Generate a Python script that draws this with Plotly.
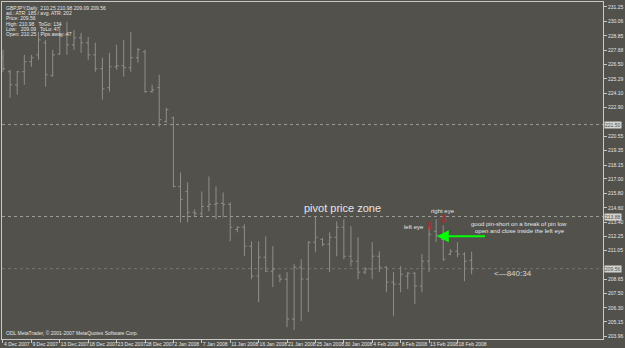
import plotly.graph_objects as go

# ---- data (GBPJPY daily) ----
bar_index = list(range(67))
opens = [227.04, 225.88, 224.80, 225.88, 226.71, 227.28, 228.28, 225.55, 227.35, 228.94,
         228.11, 228.69, 228.28, 227.28, 226.13, 224.56, 226.29, 226.37, 226.21, 227.04,
         227.53, 224.23, 224.56, 221.75, 222.05, 216.37, 215.96, 214.23, 214.14, 214.72,
         214.89, 214.97, 214.89, 212.82, 212.99, 211.42, 208.94, 210.51, 209.35, 208.94,
         208.69, 205.38, 209.68, 208.69, 211.75, 211.99, 211.58, 212.16, 212.99, 210.59,
         210.18, 209.27, 209.52, 210.59, 209.68, 208.44, 208.28, 208.94, 209.18, 208.11,
         210.18, 212.66, 211.99, 210.76, 211.00, 210.76, 210.25]
highs = [227.70, 226.04, 225.95, 227.28, 227.28, 229.18, 228.52, 227.70, 229.76, 230.01,
         229.35, 229.10, 228.77, 228.28, 227.04, 227.45, 228.11, 228.52, 229.18, 227.86,
         227.70, 224.80, 225.63, 222.90, 222.16, 217.53, 216.70, 214.47, 215.96, 217.20,
         216.37, 215.88, 215.05, 213.07, 213.23, 211.83, 211.83, 212.24, 211.42, 209.10,
         209.27, 209.93, 210.34, 211.83, 213.90, 212.10, 212.57, 213.48, 213.65, 213.07,
         212.16, 209.68, 211.75, 211.00, 209.76, 209.27, 209.76, 209.27, 209.27, 210.76,
         212.99, 213.65, 213.15, 211.17, 211.75, 210.92, 210.98]
lows = [225.88, 223.73, 223.98, 224.80, 226.29, 226.87, 224.64, 225.47, 227.28, 227.28,
        227.70, 227.45, 226.87, 225.88, 223.56, 224.23, 226.04, 225.47, 225.88, 226.62,
        224.14, 224.14, 221.33, 221.66, 216.29, 213.40, 213.40, 213.90, 213.90, 214.31,
        213.65, 213.81, 211.83, 212.57, 210.59, 208.69, 206.79, 209.27, 208.03, 208.44,
        204.72, 204.47, 205.22, 205.96, 210.92, 211.42, 209.27, 210.59, 210.34, 209.76,
        208.69, 209.10, 208.69, 209.27, 207.61, 205.63, 207.61, 207.86, 206.62, 207.61,
        209.27, 211.75, 210.18, 210.67, 210.51, 208.52, 209.09]
closes = [226.13, 224.80, 225.88, 226.71, 227.04, 228.52, 225.63, 227.28, 228.94, 228.11,
          228.69, 228.28, 227.28, 226.13, 224.47, 226.29, 226.37, 226.21, 227.04, 227.70,
          224.23, 224.39, 221.91, 222.74, 216.37, 215.30, 214.23, 214.14, 214.72, 214.89,
          214.97, 214.89, 212.99, 212.99, 211.42, 208.94, 210.51, 209.35, 209.52, 208.69,
          205.38, 209.68, 208.69, 211.75, 212.16, 211.58, 212.16, 212.99, 210.59, 210.18,
          209.27, 209.52, 210.59, 209.68, 208.44, 208.28, 209.10, 209.18, 208.11, 210.18,
          212.41, 212.33, 210.34, 211.00, 210.76, 210.18, 209.56]

date_tick_index = [0, 4, 8, 12, 16, 20, 24, 28, 32, 36, 40, 44, 48, 52, 56, 60, 64]
date_tick_text = ["4 Dec 2007", "9 Dec 2007", "13 Dec 2007", "18 Dec 2007", "23 Dec 2007",
                  "28 Dec 2007", "2 Jan 2008", "7 Jan 2008", "11 Jan 2008", "16 Jan 2008",
                  "21 Jan 2008", "25 Jan 2008", "30 Jan 2008", "4 Feb 2008", "8 Feb 2008",
                  "13 Feb 2008", "18 Feb 2008"]

price_ticks = [231.25, 230.06, 228.85, 227.68, 226.50, 225.29, 224.10, 222.90,
               220.55, 219.35, 218.15, 217.00, 215.80, 214.60, 213.40, 212.25, 211.05,
               208.65, 207.50, 206.30, 205.15, 203.96]
price_tick_text = ["%.2f" % v for v in price_ticks]

levels = [221.50, 213.88]          # dotted horizontal lines
bid_price = 209.56                 # bid line

header_lines = ["GBPJPY,Daily  210.25 210.98 209.09 209.56",
                "ad.: ATR: 185 / avg. ATR: 202",
                "Price: 209.56",
                "High: 210.98   ToGo: 134",
                "Low:   209.09   ToLo: 47",
                "Open: 210.25   Pips away: 47"]

BG = "#52514c"
BAR = "#8e8e8c"
TXT = "#e6e6e6"
FONT = "Liberation Sans"

fig = go.Figure()
fig.add_trace(go.Ohlc(
    x=bar_index, open=opens, high=highs, low=lows, close=closes,
    increasing=dict(line=dict(color=BAR, width=1)),
    decreasing=dict(line=dict(color=BAR, width=1)),
    tickwidth=0.3, showlegend=False, hoverinfo="skip"))

shapes = []
for lv in levels:
    shapes.append(dict(type="line", xref="paper", x0=0, x1=1, yref="y", y0=lv, y1=lv,
                       line=dict(color="#9c9c98", width=1, dash="dot"), layer="below"))
shapes.append(dict(type="line", xref="paper", x0=0, x1=1, yref="y", y0=bid_price, y1=bid_price,
                   line=dict(color="#74746f", width=1, dash="dot"), layer="below"))

ann = []
for k, line in enumerate(header_lines):
    ann.append(dict(xref="paper", yref="paper", x=0.003, y=1, xanchor="left", yanchor="top",
                    yshift=-1 - 5.2 * k, text=line, showarrow=False,
                    font=dict(family=FONT, size=5, color=TXT)))
ann.append(dict(xref="paper", yref="paper", x=0.003, y=0, xanchor="left", yanchor="bottom",
                yshift=1, text="ODL MetaTrader, © 2001-2007 MetaQuotes Software Corp.",
                showarrow=False, font=dict(family=FONT, size=5, color=TXT)))
# highlighted price labels on the axis
for lv in levels + [bid_price]:
    ann.append(dict(xref="paper", yref="y", x=1, y=lv, xanchor="left", yanchor="middle",
                    xshift=1, text="%.2f" % lv, showarrow=False, bgcolor="#d4d4d0",
                    borderpad=0, font=dict(family=FONT, size=5, color="#505050")))
ann += [
    dict(x=47.8, y=214.56, text="pivot price zone", showarrow=False,
         font=dict(family=FONT, size=11, color=TXT)),
    dict(x=57.9, y=212.99, text="left eye", showarrow=False,
         font=dict(family=FONT, size=6, color=TXT)),
    dict(x=61.9, y=214.35, text="right eye", showarrow=False,
         font=dict(family=FONT, size=6, color=TXT)),
    dict(x=60, y=213.07, text="⇩", showarrow=False,
         font=dict(family="DejaVu Sans", size=11, color="#d02020")),
    dict(x=62, y=213.65, text="⇩", showarrow=False,
         font=dict(family="DejaVu Sans", size=11, color="#d02020")),
    dict(x=72.7, y=213.25, text="good pin-short on a break of pin low", showarrow=False,
         font=dict(family=FONT, size=6, color=TXT)),
    dict(x=72.8, y=212.68, text="open and close inside the left eye", showarrow=False,
         font=dict(family=FONT, size=6, color=TXT)),
    dict(x=68.8, y=209.18, text="<—840:34", showarrow=False, xanchor="left",
         font=dict(family=FONT, size=8, color="#d8d8d8")),
    dict(x=61.1, y=212.24, ax=68.1, ay=212.24, axref="x", ayref="y", text="",
         showarrow=True, arrowhead=2, arrowsize=1.2, arrowwidth=2, arrowcolor="#00ff00"),
]

fig.update_layout(
    width=625, height=348,
    margin=dict(l=1, r=17, t=2, b=8),
    paper_bgcolor=BG, plot_bgcolor=BG,
    shapes=shapes, annotations=ann,
    xaxis=dict(range=[-0.14, 84.5], rangeslider=dict(visible=False), showgrid=False,
               zeroline=False, tickmode="array", tickvals=date_tick_index,
               ticktext=date_tick_text, ticks="outside", ticklen=3, tickcolor="#c8c8c8",
               ticklabelposition="outside right", tickangle=0,
               tickfont=dict(family=FONT, size=5, color=TXT),
               showline=True, linecolor="#c8c8c8", linewidth=1, mirror=True),
    yaxis=dict(range=[203.73, 231.66], side="right", showgrid=False, zeroline=False,
               tickmode="array", tickvals=price_ticks, ticktext=price_tick_text,
               ticks="outside", ticklen=3, tickcolor="#c8c8c8",
               tickfont=dict(family=FONT, size=5, color=TXT),
               showline=True, linecolor="#c8c8c8", linewidth=1, mirror=True),
)

fig.write_html("out.html")
